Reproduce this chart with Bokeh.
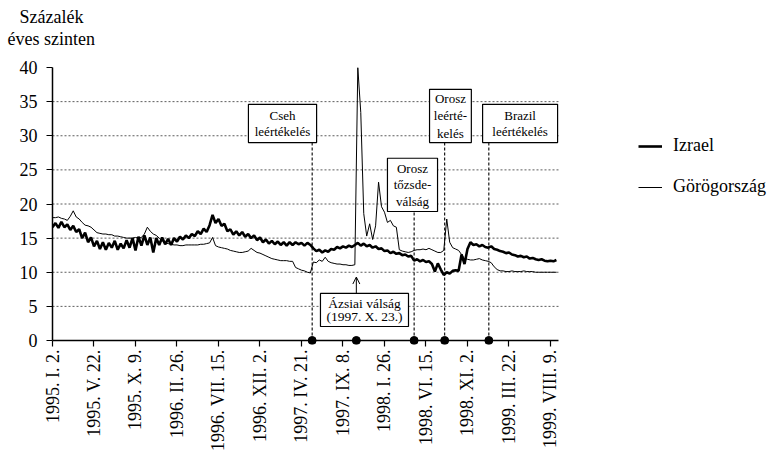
import numpy as np
import pandas as pd
from bokeh.plotting import figure
from bokeh.models import (FixedTicker, Range1d, Legend, LegendItem, Title, Arrow,
                          OpenHead, ColumnDataSource)
from bokeh.embed import file_html
from bokeh.resources import INLINE

# ---------------- data ----------------
start_date = "1995-01-02"
step_days = 10  # one observation every 10 days

izrael = [
    16.6, 17.2, 16.5, 17.4, 16.6, 17.0, 16.2, 16.8, 15.9, 16.3,
    15.0, 15.8, 14.4, 15.1, 13.8, 14.6, 13.4, 14.4, 13.3, 14.3,
    13.6, 14.6, 13.3, 14.2, 13.5, 14.7, 13.6, 15.0, 13.2, 15.2,
    13.9, 15.4, 14.0, 15.1, 12.9, 15.0, 14.0, 15.1, 14.1, 14.9,
    14.0, 15.0, 14.5, 15.2, 14.8, 15.4, 15.0, 15.6, 15.3, 16.0,
    15.6, 16.4, 15.9, 16.9, 18.4, 17.2, 17.8, 16.8, 17.1, 16.0,
    16.3, 15.5, 16.0, 15.4, 15.9, 15.2, 15.6, 15.0, 15.4, 14.7,
    15.1, 14.4, 14.8, 14.2, 14.6, 14.1, 14.5, 14.0, 14.4, 13.9,
    14.4, 14.0, 14.4, 14.1, 14.3, 13.9, 14.3, 14.0, 13.5, 13.1,
    13.3, 12.9, 13.2, 13.0, 13.4, 13.3, 13.7, 13.5, 13.8, 13.6,
    13.9, 13.7, 14.0, 14.3, 13.9, 14.2, 13.8, 14.0, 13.6, 13.8,
    13.4, 13.5, 13.1, 13.2, 12.8, 13.0, 12.7, 12.8, 12.5, 12.6,
    12.3, 12.4, 11.7, 11.9, 11.6, 11.8, 11.5, 11.6, 11.2, 10.1,
    11.3, 10.4, 9.6, 10.0, 9.8, 10.2, 10.3, 10.2, 12.6, 11.2,
    13.4, 14.4, 14.0, 14.1, 13.8, 14.0, 13.7, 13.6, 13.8, 13.4,
    13.3, 13.1, 13.0, 12.8, 12.9, 12.6, 12.5, 12.3, 12.4, 12.2,
    12.3, 12.0, 12.1, 11.9, 11.8, 11.9, 11.7, 11.6, 11.7, 11.6,
    11.8,
]

gorog = [
    18.0, 18.0, 18.1, 17.9, 17.8, 17.6, 18.2, 19.0, 18.1, 17.8,
    17.3, 16.9, 16.8, 16.6, 16.2, 15.8, 15.7, 15.6, 15.6, 15.5,
    15.5, 15.3, 15.3, 15.2, 15.1, 15.0, 15.0, 15.0, 15.1, 15.0,
    15.1, 15.6, 16.6, 16.0, 15.6, 15.4, 15.0, 14.6, 14.3, 14.2,
    14.1, 14.0, 14.0, 13.9, 13.9, 14.0, 14.0, 14.0, 14.0, 14.0,
    14.1, 14.1, 14.2, 14.3, 15.1, 13.9, 13.7, 13.6, 13.5, 13.4,
    13.2, 13.1, 13.0, 12.9, 12.9, 13.0, 13.1, 13.5, 13.2, 12.9,
    12.8, 12.6, 12.4, 12.2, 12.0, 11.9, 11.8, 11.7, 11.7, 11.7,
    11.6, 11.6, 10.7, 10.5, 10.3, 10.2, 10.0, 9.9, 11.5, 11.4,
    11.8, 11.6, 12.2, 11.6, 11.4, 11.3, 11.2, 11.2, 11.1, 11.1,
    11.0, 11.0, 11.1, 40.0, 33.4, 18.6, 15.3, 17.1, 14.8, 16.8,
    23.2, 19.6, 18.8, 17.3, 17.6, 16.8, 16.6, 13.3, 13.1, 13.0,
    12.9, 13.0, 13.2, 13.3, 13.3, 13.4, 13.3, 13.5, 13.3, 13.1,
    12.9, 12.9, 13.2, 17.8, 14.4, 13.6, 13.4, 13.2, 12.6, 12.0,
    11.9, 11.8, 11.8, 11.9, 12.0, 11.8, 11.7, 11.6, 11.4, 10.8,
    10.4, 10.2, 10.2, 10.1, 10.1, 10.2, 10.1, 10.1, 10.1, 10.2,
    10.1, 10.1, 10.1, 10.0, 10.0, 10.0, 10.0, 10.0, 10.0, 10.0,
    10.0,
]

series_names = ["Izrael", "Görögország"]
y_title = ["Százalék", "éves szinten"]

tick_dates = ["1995-01-02", "1995-05-22", "1995-10-09", "1996-02-26", "1996-07-15",
              "1996-12-02", "1997-04-21", "1997-09-08", "1998-01-26", "1998-06-15",
              "1998-11-02", "1999-03-22", "1999-08-09"]
tick_labels = ["1995. I. 2.", "1995. V. 22.", "1995. X. 9.", "1996. II. 26.",
               "1996. VII. 15.", "1996. XII. 2.", "1997. IV. 21.", "1997. IX. 8.",
               "1998. I. 26.", "1998. VI. 15.", "1998. XI. 2.", "1999. III. 22.",
               "1999. VIII. 9."]
y_ticks = [0, 5, 10, 15, 20, 25, 30, 35, 40]
grid_ticks = [5, 10, 15, 20, 25, 30, 35]

event_dates = ["1997-05-27", "1997-10-23", "1998-05-06", "1998-08-17", "1999-01-13"]
event_texts = [["Cseh", "leértékelés"],
               ["Ázsiai válság", "(1997. X. 23.)"],
               ["Orosz", "tőzsde-", "válság"],
               ["Orosz", "leérté-", "kelés"],
               ["Brazil", "leértékelés"]]

# ---------------- layout (annotation boxes, not data) ----------------
# box: (left day offset, right day offset, bottom value, top value, line spacing, font px)
box_layout = [
    (661, 891, 29.0, 34.6, 2.34, "13px"),
    (904, 1201, 2.05, 6.9, 1.8, "13.5px"),
    (1130, 1299, 18.9, 26.7, 2.4, "13px"),
    (1272, 1413, 29.0, 36.8, 2.52, "13px"),
    (1451, 1704, 29.0, 34.6, 2.34, "13px"),
]
has_vline = [True, False, True, True, True]
AXIS_DAYS = 1707     # visible length of the time axis
FRAME_DAYS = 2429    # frame also holds the legend on the right

FONT = "Liberation Serif"


def ms(d):
    return pd.Timestamp(d).value / 1e6


DAY_MS = 86400000.0
t0 = ms(start_date)
t_axis_end = t0 + AXIS_DAYS * DAY_MS

dates = pd.date_range(start_date, periods=len(izrael), freq=f"{step_days}D")
src = ColumnDataSource(dict(date=dates, izrael=izrael, gorog=gorog))

p = figure(width=772, height=459, x_axis_type="datetime",
           x_range=Range1d(t0, t0 + FRAME_DAYS * DAY_MS), y_range=Range1d(-0.586, 40),
           output_backend="svg", toolbar_location=None,
           min_border_left=52, min_border_right=0, min_border_top=67,
           min_border_bottom=115)
p.outline_line_color = None
p.background_fill_color = "white"
p.border_fill_color = "white"
p.grid.visible = False

for ax in (p.xaxis[0], p.yaxis[0]):
    ax.axis_line_color = "black"
    ax.axis_line_width = 1.5
    ax.major_tick_line_color = "black"
    ax.major_tick_line_width = 1.2
    ax.minor_tick_line_color = None
    ax.major_label_text_font = FONT
    ax.major_label_text_font_size = "18px"
    ax.major_label_text_color = "black"

p.yaxis.ticker = FixedTicker(ticks=y_ticks)
p.yaxis.major_label_standoff = 9
p.yaxis.major_tick_out = 6
p.yaxis.major_tick_in = 0
p.yaxis.bounds = (0, 40)

p.xaxis.ticker = FixedTicker(ticks=[ms(d) for d in tick_dates])
p.xaxis.major_label_overrides = {ms(d): lab for d, lab in zip(tick_dates, tick_labels)}
p.xaxis.major_label_orientation = np.pi / 2
p.xaxis.major_label_standoff = 3
p.xaxis.major_tick_in = 4
p.xaxis.major_tick_out = 2
p.xaxis.axis_line_color = None
p.xaxis.bounds = (t0, t_axis_end)

# horizontal dotted grid lines across the time axis
p.segment(x0=[t0] * len(grid_ticks), x1=[t_axis_end] * len(grid_ticks),
          y0=grid_ticks, y1=grid_ticks, line_color="#333333", line_width=0.8,
          line_dash="2 2")
# x axis line at zero
p.segment(x0=[t0], x1=[t_axis_end], y0=[0], y1=[0], line_color="black", line_width=1.5)

r1 = p.line("date", "izrael", source=src, line_width=2.6, line_color="black")
r2 = p.line("date", "gorog", source=src, line_width=1.0, line_color="black")

# event markers, vertical dashed lines, boxes and texts
ev_ms = [ms(d) for d in event_dates]
seg_x, seg_y1 = [], []
for e, lay, hv in zip(ev_ms, box_layout, has_vline):
    if hv:
        seg_x.append(e)
        seg_y1.append(lay[2])
p.segment(x0=seg_x, y0=[0] * len(seg_x), x1=seg_x, y1=seg_y1,
          line_color="black", line_width=1.1, line_dash="3 2")

p.quad(left=[t0 + b[0] * DAY_MS for b in box_layout],
       right=[t0 + b[1] * DAY_MS for b in box_layout],
       bottom=[b[2] for b in box_layout], top=[b[3] for b in box_layout],
       fill_color="white", line_color="black", line_width=1.2)

for lines, lay in zip(event_texts, box_layout):
    cx = t0 + (lay[0] + lay[1]) / 2 * DAY_MS
    cy = (lay[2] + lay[3]) / 2
    n = len(lines)
    ys = [cy + ((n - 1) / 2 - k) * lay[4] for k in range(n)]
    p.text(x=[cx] * n, y=ys, text=lines, text_align="center", text_baseline="middle",
           text_font={"value": FONT}, text_font_size={"value": lay[5]}, text_color="black")

# arrow for the Asian crisis
p.add_layout(Arrow(end=OpenHead(size=7, line_width=1, line_color="black"),
                   x_start=ev_ms[1], y_start=box_layout[1][3], x_end=ev_ms[1], y_end=9.3,
                   line_color="black", line_width=1))

p.scatter(x=ev_ms, y=[0] * len(ev_ms), size=8, color="black")

# axis title at the top (stacked titles in the "above" panel)
spacer = Title(text=" ", text_font_size="1px", standoff=16)
p.add_layout(spacer, "above")
p.add_layout(Title(text=y_title[1], align="left", offset=-45, standoff=0,
                   text_font=FONT, text_font_size="18px", text_font_style="normal",
                   text_color="black"), "above")
p.add_layout(Title(text=y_title[0], align="left", offset=-33, standoff=0,
                   text_font=FONT, text_font_size="18px", text_font_style="normal",
                   text_color="black"), "above")

legend = Legend(items=[LegendItem(label=series_names[0], renderers=[r1]),
                       LegendItem(label=series_names[1], renderers=[r2])],
                location=(586, 147), orientation="vertical", padding=0, margin=0,
                spacing=20, glyph_width=24, glyph_height=20, label_height=20,
                label_standoff=11, border_line_alpha=0, background_fill_alpha=0,
                label_text_font=FONT, label_text_font_size="18px",
                label_text_color="black")
p.add_layout(legend)

open("out.html", "w").write(file_html(p, INLINE))
